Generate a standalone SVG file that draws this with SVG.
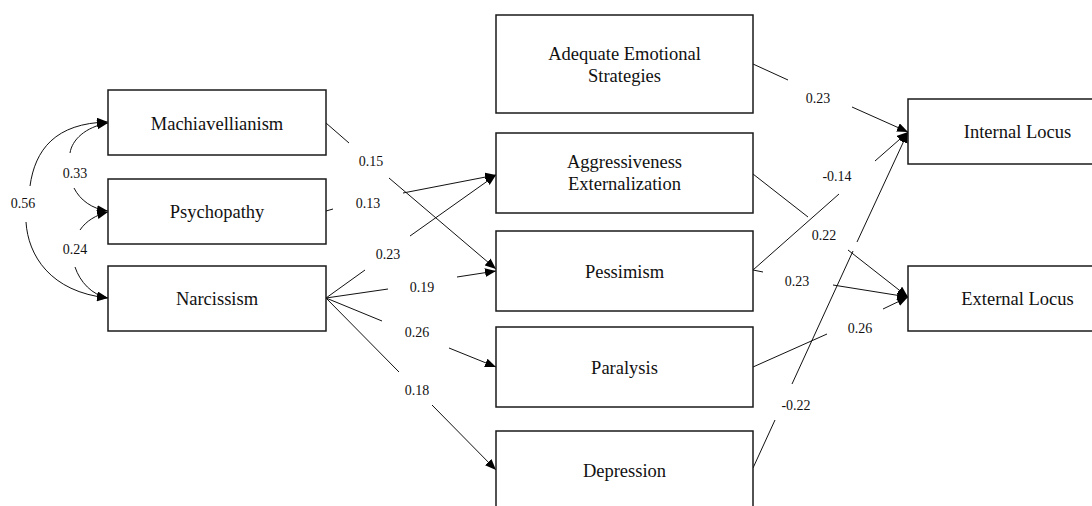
<svg xmlns="http://www.w3.org/2000/svg" width="1092" height="506" viewBox="0 0 1092 506">
<style>
.box{fill:#fff;stroke:#1a1a1a;stroke-width:1.5}
.lbl{font-family:"Liberation Serif","Times New Roman",serif;font-size:18.5px;fill:#111;text-anchor:middle}
.num{font-family:"Liberation Serif","Times New Roman",serif;font-size:14px;fill:#111;text-anchor:middle}
.c{fill:none;stroke:#111;stroke-width:1}
.a{marker-end:url(#ah)}
.s{marker-start:url(#ah)}
</style>
<defs>
<marker id="ah" markerUnits="userSpaceOnUse" markerWidth="12" markerHeight="10" refX="11" refY="4.5" orient="auto-start-reverse">
<path d="M0,0 L11,4.5 L0,9 z" fill="#000"/>
</marker>
</defs>
<rect width="1092" height="506" fill="#fff"/>

<g id="connectors">
<path class="c s" d="M108,122 C55,123 35,150 30,186"/>
<path class="c a" d="M26,222 C28,255 50,292 108,298"/>
<path class="c s" d="M108,123 C85,127 72,140 70,153"/>
<path class="c a" d="M74,188 C80,200 92,209 108,211"/>
<path class="c s" d="M108,212 C96,215 86,221 80,230"/>
<path class="c a" d="M75,267 C80,282 92,295 108,298"/>

<path class="c a" d="M326,123 L349,143 M389,178 L496,269"/>
<path class="c a" d="M326,211 L333,209 M403,193 L496,175"/>
<path class="c a" d="M326,298 L365,270 M410,236 L496,175"/>
<path class="c a" d="M326,298 L388,289 M457,277 L496,271"/>
<path class="c a" d="M326,298 L382,321 M449,348 L496,367"/>
<path class="c a" d="M326,298 L399,372 M432,405 L496,470"/>

<path class="c a" d="M753,64 L788,80 M852,107 L908,132"/>
<path class="c a" d="M753,174 L808,217 M848,250 L908,297"/>
<path class="c a" d="M753,270 L839,194 M875,161 L908,132"/>
<path class="c a" d="M753,270 L763,272 M833,285 L908,297"/>
<path class="c a" d="M753,367 L827,334 M883,309 L908,297"/>
<path class="c a" d="M753,468 L775,420 M792,384 L853,251 M857,242 L908,132"/>
</g>

<g id="edge-labels">
<text class="num" x="23" y="208">0.56</text>
<text class="num" x="75" y="178">0.33</text>
<text class="num" x="75" y="254">0.24</text>
<text class="num" x="371" y="166">0.15</text>
<text class="num" x="368" y="208">0.13</text>
<text class="num" x="388" y="259">0.23</text>
<text class="num" x="422" y="292">0.19</text>
<text class="num" x="417" y="337">0.26</text>
<text class="num" x="417" y="395">0.18</text>
<text class="num" x="818" y="103">0.23</text>
<text class="num" x="837" y="181">-0.14</text>
<text class="num" x="824" y="240">0.22</text>
<text class="num" x="797" y="286">0.23</text>
<text class="num" x="860" y="333">0.26</text>
<text class="num" x="796" y="410">-0.22</text>
</g>

<g id="machiavellianism">
<rect class="box" x="108" y="90" width="218" height="65"/>
<text class="lbl" x="217" y="130">Machiavellianism</text>
</g>
<g id="psychopathy">
<rect class="box" x="108" y="179" width="218" height="65"/>
<text class="lbl" x="217" y="218">Psychopathy</text>
</g>
<g id="narcissism">
<rect class="box" x="108" y="266" width="218" height="65"/>
<text class="lbl" x="217" y="305">Narcissism</text>
</g>

<g id="adequate">
<rect class="box" x="496" y="15" width="257" height="98"/>
<text class="lbl" x="624.5" y="60">Adequate Emotional</text>
<text class="lbl" x="624.5" y="82">Strategies</text>
</g>
<g id="aggressiveness">
<rect class="box" x="496" y="133" width="257" height="80"/>
<text class="lbl" x="624.5" y="168">Aggressiveness</text>
<text class="lbl" x="624.5" y="190">Externalization</text>
</g>
<g id="pessimism">
<rect class="box" x="496" y="231" width="257" height="80"/>
<text class="lbl" x="624.5" y="278">Pessimism</text>
</g>
<g id="paralysis">
<rect class="box" x="496" y="327" width="257" height="80"/>
<text class="lbl" x="624.5" y="373.5">Paralysis</text>
</g>
<g id="depression">
<rect class="box" x="496" y="431" width="257" height="80"/>
<text class="lbl" x="624.5" y="477">Depression</text>
</g>

<g id="internal-locus">
<rect class="box" x="908" y="99" width="219" height="65"/>
<text class="lbl" x="1017.5" y="138">Internal Locus</text>
</g>
<g id="external-locus">
<rect class="box" x="908" y="266" width="219" height="65"/>
<text class="lbl" x="1017.5" y="305">External Locus</text>
</g>
</svg>
